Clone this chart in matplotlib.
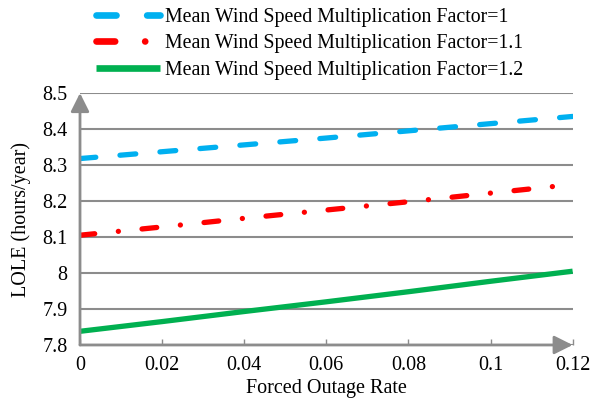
import matplotlib.pyplot as plt
from matplotlib.ticker import FuncFormatter

plt.rcParams['font.family'] = ['Liberation Serif', 'DejaVu Serif']

# data
forced_outage_rate = [0, 0.02, 0.04, 0.06, 0.08, 0.1, 0.12]
lole_factor_1 = [8.318, 8.337, 8.356, 8.375, 8.395, 8.415, 8.435]
lole_factor_11 = [8.105, 8.128, 8.152, 8.175, 8.198, 8.222, 8.246]
lole_factor_12 = [7.838, 7.865, 7.893, 7.920, 7.948, 7.977, 8.005]
labels = ['Mean Wind Speed Multiplication Factor=1',
          'Mean Wind Speed Multiplication Factor=1.1',
          'Mean Wind Speed Multiplication Factor=1.2']

fig = plt.figure(figsize=(5.9, 3.98), dpi=100)
ax = fig.add_axes([0.1356, 0.1332, 0.835, 0.633])

lw = 3.8
ax.plot(forced_outage_rate, lole_factor_1, color='#00B0F0', lw=lw,
        dashes=(3.0, 4.6), dash_capstyle='round', label=labels[0])
ax.plot(forced_outage_rate, lole_factor_11, color='#FF0000', lw=lw,
        dashes=(2.8, 4.5, 0.01, 4.5), dash_capstyle='round', label=labels[1])
ax.plot(forced_outage_rate, lole_factor_12, color='#00B050', lw=lw,
        solid_capstyle='butt', label=labels[2])

ax.set_xlim(0, 0.12)
ax.set_ylim(7.8, 8.5)
ax.set_xticks([0, 0.02, 0.04, 0.06, 0.08, 0.1, 0.12])
ax.set_yticks([7.8, 7.9, 8.0, 8.1, 8.2, 8.3, 8.4, 8.5])
fmt = FuncFormatter(lambda v, p: '%g' % round(v, 3))
ax.xaxis.set_major_formatter(fmt)
ax.yaxis.set_major_formatter(fmt)
ax.tick_params(axis='x', direction='in', length=4, width=1, color='#8c8c8c',
               labelsize=14.5, pad=8)
ax.tick_params(axis='y', length=0, labelsize=14.5, pad=9)

ax.grid(axis='y', color='#8c8c8c', lw=1.5)
ax.set_axisbelow(True)
for s in ax.spines.values():
    s.set_visible(False)

# axis arrows
arrow = dict(arrowstyle='-|>', color='#8c8c8c', lw=2, mutation_scale=28,
             shrinkA=0, shrinkB=0)
ax.annotate('', xy=(1, 0), xytext=(0, 0), xycoords='axes fraction',
            arrowprops=arrow, zorder=5)
ax.annotate('', xy=(0, 1), xytext=(0, 0), xycoords='axes fraction',
            arrowprops=arrow, zorder=5)

ax.set_xlabel('Forced Outage Rate', fontsize=14.5, labelpad=3)
ax.set_ylabel('LOLE (hours/year)', fontsize=14.5, labelpad=8)

leg = ax.legend(loc='upper center', bbox_to_anchor=(0.466, 1.338), frameon=False,
                fontsize=14.3, handlelength=3.2, handletextpad=0.25,
                labelspacing=0.38, borderaxespad=0, borderpad=0)
for h in leg.get_lines():
    h.set_linewidth(4.8)

fig.savefig('out.png', dpi=100)
